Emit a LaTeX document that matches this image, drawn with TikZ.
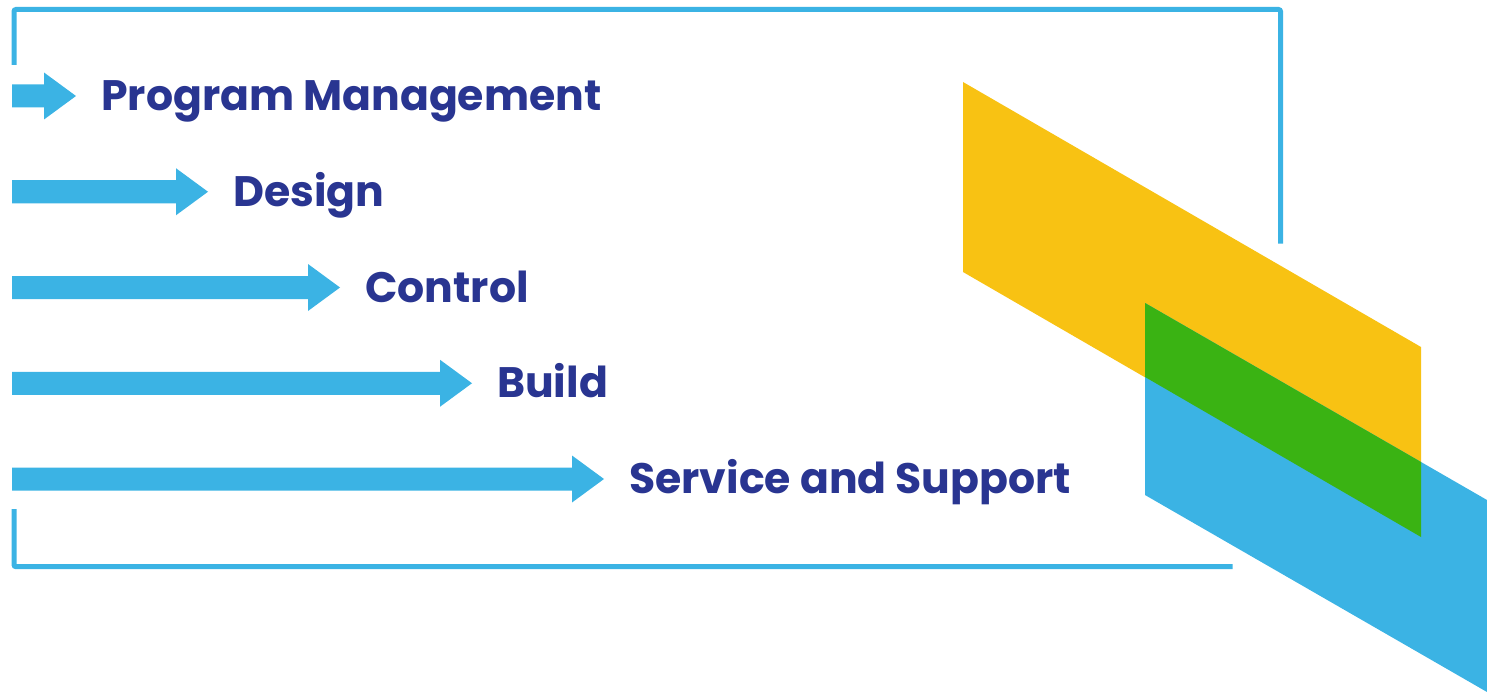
\documentclass[tikz,border=0pt]{standalone}
\usepackage{fontspec}
\setmainfont{Poppins}
\usetikzlibrary{positioning}
\definecolor{skyblue}{RGB}{59,179,228}
\definecolor{navy}{RGB}{41,53,145}
\definecolor{sunyellow}{RGB}{248,194,19}
\definecolor{leafgreen}{RGB}{58,179,19}
\tikzset{
  frameline/.style={draw=skyblue, line width=5pt, rounded corners=2pt},
  steplabel/.style={inner sep=0pt, text=navy,
    font=\fontsize{42.6}{48}\selectfont\bfseries}
}
\begin{document}
\begin{tikzpicture}[x=1pt, y=-1pt]
		\useasboundingbox (0,0) rectangle (1487,695);

		%%% FRAME
		\draw[frameline] (14,65) -- (14,9.5) -- (1280.5,9.5) -- (1280.5,243.5);
		\draw[frameline] (14,509) -- (14,566.7) -- (1232.7,566.7);

		%%% PARALLELOGRAMS
		\fill[sunyellow] (963,82) -- (1421,347) -- (1421,537) -- (963,272) -- cycle;
		\fill[skyblue] (1145,303) -- (1487,500) -- (1487,692) -- (1145,495) -- cycle;
		\fill[leafgreen] (1145,303) -- (1421,462) -- (1421,537) -- (1145,377) -- cycle;

		%%% STEPS
		\foreach \i/\name in {0/Program Management, 1/Design, 2/Control, 3/Build, 4/Service and Support} {
			\pgfmathsetmacro{\tx}{76+132*\i}
			\pgfmathsetmacro{\ty}{96+95.75*\i}
			\fill[skyblue] (12,\ty-11.5) -- (\tx-32,\ty-11.5) -- (\tx-32,\ty-23.5) -- (\tx,\ty)
				-- (\tx-32,\ty+23.5) -- (\tx-32,\ty+11.5) -- (12,\ty+11.5) -- cycle;
			\coordinate (tip\i) at (\tx,\ty+14.7);
			\node[steplabel, right=25pt of tip\i, anchor=base west] (label\i) {\name};
		}
	\end{tikzpicture}
\end{document}
